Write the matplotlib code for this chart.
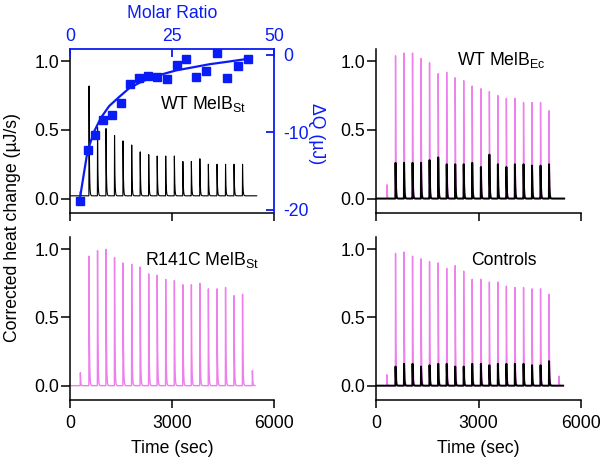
import numpy as np
import matplotlib
matplotlib.use('Agg')
import matplotlib.pyplot as plt

plt.rcParams['font.family'] = ['Liberation Sans', 'DejaVu Sans']
plt.rcParams['mathtext.fontset'] = 'custom'
plt.rcParams['mathtext.rm'] = 'Liberation Sans'
plt.rcParams['mathtext.it'] = 'Liberation Sans:italic'
plt.rcParams['axes.unicode_minus'] = False

FS = 12.7
BLUE = '#0a1cf5'
PINK = '#ee80ee'

# ---------------- data ----------------
inj_times = [300, 555, 805, 1055, 1305, 1555, 1810, 2060, 2310, 2560,
             2810, 3065, 3315, 3565, 3815, 4065, 4320, 4570, 4820, 5070]

wt_st_black = [0.05, 0.82, 0.52, 0.51, 0.46, 0.42, 0.39, 0.34, 0.32, 0.31,
               0.31, 0.31, 0.27, 0.27, 0.29, 0.25, 0.25, 0.25, 0.25, 0.25]
wt_ec_pink = [0.10, 1.04, 1.06, 1.06, 1.02, 0.99, 0.91, 0.92, 0.88, 0.86,
              0.82, 0.80, 0.78, 0.75, 0.73, 0.73, 0.70, 0.70, 0.70, 0.64]
wt_ec_black = [0.0, 0.26, 0.26, 0.26, 0.26, 0.28, 0.30, 0.25, 0.25, 0.25,
               0.26, 0.23, 0.32, 0.25, 0.23, 0.25, 0.25, 0.24, 0.24, 0.25]
r141c_pink = [0.095, 0.95, 0.99, 1.00, 0.94, 0.90, 0.89, 0.87, 0.82, 0.81,
              0.78, 0.77, 0.74, 0.74, 0.75, 0.71, 0.71, 0.72, 0.66, 0.67]
ctrl_pink = [0.08, 0.97, 0.98, 0.95, 0.93, 0.91, 0.90, 0.86, 0.88, 0.84,
             0.78, 0.78, 0.76, 0.76, 0.73, 0.72, 0.72, 0.71, 0.71, 0.67]
ctrl_black = [0.0, 0.14, 0.16, 0.16, 0.14, 0.15, 0.16, 0.16, 0.14, 0.14,
              0.16, 0.16, 0.15, 0.16, 0.16, 0.16, 0.16, 0.15, 0.15, 0.18]

end_bump_time = 5360
r141c_end_bump = 0.11
ctrl_end_bump = 0.07

molar_ratio = [2.4, 4.3, 6.2, 8.2, 10.4, 12.5, 14.7, 16.8, 19.0, 21.3,
               23.7, 26.2, 28.5, 30.8, 33.4, 36.0, 38.5, 41.2, 43.7]
delta_q = [-18.9, -12.3, -10.4, -8.4, -7.8, -6.2, -3.7, -3.0, -2.7, -2.9,
           -3.1, -1.3, -0.55, -2.8, -2.1, 0.2, -3.0, -1.4, -0.55]
fit_ratio = [2.4, 4.3, 5.9, 7.6, 9.6, 12.1, 14.5, 17.0, 19.5, 21.9,
             26.0, 30.1, 34.2, 38.3, 43.7]
fit_q = [-18.6, -12.4, -9.9, -8.1, -6.6, -5.4, -4.3, -3.6, -3.0, -2.6,
         -2.0, -1.6, -1.2, -0.9, -0.5]

time_ticks = [0, 3000, 6000]
heat_ticks = [0.0, 0.5, 1.0]
ratio_ticks = [0, 25, 50]
dq_ticks = [0, -10, -20]


def trace(tops, base, t_end, extra=None, rise=5, tau=11):
    t = np.arange(0, t_end + 1, 1.0)
    y = np.full_like(t, base)
    peaks = list(zip(inj_times, tops))
    if extra is not None:
        peaks.append(extra)
    for ti, top in peaks:
        dt = t - ti
        k = np.where(dt < 0, 0.0,
                     np.where(dt < rise, dt / rise, np.exp(-(dt - rise) / tau)))
        y = y + (top - base) * k
    return t, y


fig = plt.figure(figsize=(6, 4.65), dpi=100)
L, R, W = 70 / 600, 376.5 / 600, 204 / 600
pos = {
    'tl': [L, 0.542, W, 0.3527],
    'tr': [R, 0.542, W, 0.3527],
    'bl': [L, 0.1398, W, 0.3505],
    'br': [R, 0.1398, W, 0.3505],
}


def style(ax, xlabels):
    ax.set_xlim(0, 6000)
    ax.set_ylim(-0.105, 1.09)
    ax.set_xticks(time_ticks)
    ax.set_yticks(heat_ticks)
    ax.set_yticklabels(['%.1f' % v for v in heat_ticks])
    if xlabels:
        ax.set_xticklabels([str(v) for v in time_ticks])
    else:
        ax.set_xticklabels([])
    for s in ['top', 'right']:
        ax.spines[s].set_visible(False)
    for s in ['left', 'bottom']:
        ax.spines[s].set_linewidth(1.1)
    ax.tick_params(axis='y', direction='out', length=6.5, width=1.1,
                   pad=1.5, labelsize=FS)
    ax.tick_params(axis='x', direction='out', length=5.5, width=1.1,
                   pad=5.5, labelsize=FS)
    ax.patch.set_alpha(0)


# top-left
ax = fig.add_axes(pos['tl'])
t, y = trace(wt_st_black, 0.02, 5490)
ax.plot(t, y, color='black', lw=0.8)
style(ax, False)

axb = fig.add_axes(pos['tl'], facecolor='none')
axb.set_xlim(0, 50)
axb.set_ylim(-20.4, 0.77)
axb.plot(fit_ratio, fit_q, color=BLUE, lw=1.6, zorder=2)
axb.plot(molar_ratio, delta_q, 's', color=BLUE, ms=6.4, zorder=3)
axb.xaxis.tick_top()
axb.yaxis.tick_right()
axb.set_xticks(ratio_ticks)
axb.set_yticks(dq_ticks)
axb.set_yticklabels([str(v) for v in dq_ticks])
for s in ['left', 'bottom']:
    axb.spines[s].set_visible(False)
for s in ['top', 'right']:
    axb.spines[s].set_color(BLUE)
    axb.spines[s].set_linewidth(1.3)
axb.tick_params(axis='both', direction='in', length=5.5, width=1.3,
                color=BLUE, labelcolor=BLUE, labelsize=FS)
axb.tick_params(axis='x', pad=3)
axb.tick_params(axis='y', pad=7)
fig.text(172 / 600, 1 - 13 / 465, 'Molar Ratio', color=BLUE, fontsize=FS,
         ha='center', va='center')
fig.text(317 / 600, 1 - 134 / 465, 'ΔQ (µJ)', color=BLUE, fontsize=FS,
         ha='center', va='center', rotation=270)

# top-right
ax = fig.add_axes(pos['tr'])
t, y = trace(wt_ec_pink, 0.0, 5500)
ax.plot(t, y, color=PINK, lw=1.0)
t, y = trace(wt_ec_black, 0.0, 5520)
ax.plot(t, y, color='black', lw=1.4)
style(ax, False)

# bottom-left
ax = fig.add_axes(pos['bl'])
t, y = trace(r141c_pink, 0.0, 5440, extra=(end_bump_time, r141c_end_bump))
ax.plot(t, y, color=PINK, lw=1.0)
style(ax, True)

# bottom-right
ax = fig.add_axes(pos['br'])
t, y = trace(ctrl_pink, 0.0, 5450, extra=(end_bump_time, ctrl_end_bump))
ax.plot(t, y, color=PINK, lw=1.0)
t, y = trace(ctrl_black, 0.0, 5490)
ax.plot(t, y, color='black', lw=1.4)
style(ax, True)

# texts
fig.text(0.2667, 1 - 109.3 / 465, r'WT MelB$_{\mathrm{St}}$', fontsize=FS,
         ha='left', va='baseline')
fig.text(0.761, 1 - 65 / 465, r'WT MelB$_{\mathrm{Ec}}$', fontsize=FS,
         ha='left', va='baseline')
fig.text(0.2417, 1 - 265 / 465, r'R141C MelB$_{\mathrm{St}}$', fontsize=FS,
         ha='left', va='baseline')
fig.text(0.7845, 1 - 265 / 465, 'Controls', fontsize=FS,
         ha='left', va='baseline')

fig.text(13 / 600, 0.51, 'Corrected heat change (µJ/s)', fontsize=FS,
         ha='center', va='center', rotation=90)
fig.text((70 + 102) / 600, 1 - 448 / 465, 'Time (sec)', fontsize=FS,
         ha='center', va='center')
fig.text((376.5 + 102) / 600, 1 - 448 / 465, 'Time (sec)', fontsize=FS,
         ha='center', va='center')

fig.savefig('out.png', dpi=100)
